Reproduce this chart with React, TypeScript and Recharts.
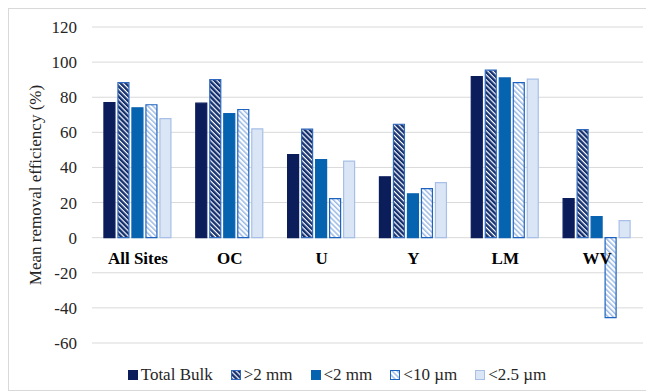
import { BarChart, Bar, XAxis, YAxis, CartesianGrid, Legend } from "recharts";

const sites = ["All Sites", "OC", "U", "Y", "LM", "WV"];
const totalBulk = [77, 76.6, 47.3, 34.7, 91.7, 22.2];
const over2mm = [88.3, 90, 61.8, 64.6, 95.4, 61.5];
const under2mm = [74, 70.6, 44.4, 25, 91, 12];
const under10um = [75.7, 73, 22.2, 27.9, 88.3, -45.6];
const under25um = [67.8, 62, 43.6, 31.3, 90.3, 9.7];
const yTicks = [-60, -40, -20, 0, 20, 40, 60, 80, 100, 120];

const data = sites.map((site, i) => ({
  site,
  totalBulk: totalBulk[i],
  over2mm: over2mm[i],
  under2mm: under2mm[i],
  under10um: under10um[i],
  under25um: under25um[i],
}));

const FONT = "Liberation Serif, DejaVu Serif, Times New Roman, serif";

// series look: fill + border
const SERIES = [
  { key: "totalBulk", name: "Total Bulk", fill: "#0b1d5b", stroke: "#0b1d5b" },
  { key: "over2mm", name: ">2 mm", fill: "url(#hatchDark)", stroke: "#2f68bd" },
  { key: "under2mm", name: "<2 mm", fill: "#0563b0", stroke: "#0a62b0" },
  { key: "under10um", name: "<10 µm", fill: "url(#hatchLight)", stroke: "#1f63c0" },
  { key: "under25um", name: "<2.5 µm", fill: "#dae6f6", stroke: "#a8c0e8" },
];

function Patterns() {
  return (
    <defs>
      <pattern id="hatchDark" width="3.6" height="4" patternUnits="userSpaceOnUse" patternTransform="rotate(-45)">
        <rect width="3.6" height="4" fill="#ffffff" />
        <rect width="2.4" height="4" fill="#14306e" />
      </pattern>
      <pattern id="hatchLight" width="3.6" height="4" patternUnits="userSpaceOnUse" patternTransform="rotate(-45)">
        <rect width="3.6" height="4" fill="#ffffff" />
        <rect width="1.5" height="4" fill="#9dbbe6" />
      </pattern>
    </defs>
  );
}

// categories sit just under the zero line, not at the bottom
const CategoryTick = (props: any) => {
  const { x, payload } = props;
  return (
    <text
      x={x}
      y={249}
      dy="0.35em"
      textAnchor="middle"
      style={{ fontFamily: FONT }}
      fontSize={17}
      fontWeight="bold"
      fill="#000"
    >
      {payload.value}
    </text>
  );
};

const LegendContent = () => (
  <div
    style={{
      display: "flex",
      justifyContent: "center",
      alignItems: "center",
      height: 20,
      fontFamily: FONT,
      fontSize: 17,
      color: "#262626",
      paddingLeft: 40,
    }}
  >
    {SERIES.map((s) => (
      <div key={s.key} style={{ display: "flex", alignItems: "center", marginRight: 18 }}>
        <svg width={10} height={10} style={{ marginRight: 3 }}>
          <rect x={0.5} y={0.5} width={9} height={9} fill={s.fill} stroke={s.stroke} />
        </svg>
        <span>{s.name}</span>
      </div>
    ))}
  </div>
);

export default function App() {
  return (
    <div style={{ width: 644, border: "1px solid #d9d9d9", background: "#fff", fontFamily: FONT }}>
      <BarChart
        width={644}
        height={381}
        data={data}
        margin={{ top: 18, right: 10, left: 0, bottom: 5 }}
        barCategoryGap="13%"
        barGap={3}
        style={{ fontFamily: FONT }}
      >
        <Patterns />
        <CartesianGrid vertical={false} stroke="#d9d9d9" />
        <XAxis
          dataKey="site"
          height={22}
          axisLine={false}
          tickLine={false}
          tick={<CategoryTick />}
        />
        <YAxis
          width={83}
          domain={[-60, 120]}
          ticks={yTicks}
          axisLine={false}
          tickLine={false}
          tickSize={0}
          tickMargin={15}
          tick={{ fontFamily: FONT, fontSize: 17, fill: "#262626" }}
          label={{
            value: "Mean removal efficiency (%)",
            angle: -90,
            position: "insideLeft",
            offset: 26,
            style: { textAnchor: "middle", fontFamily: FONT, fontSize: 17, fill: "#262626" },
          }}
        />
        <Legend verticalAlign="bottom" content={<LegendContent />} />
        {SERIES.map((s) => (
          <Bar
            key={s.key}
            dataKey={s.key}
            name={s.name}
            fill={s.fill}
            stroke={s.stroke}
            strokeWidth={1.2}
            isAnimationActive={false}
          />
        ))}
      </BarChart>
    </div>
  );
}
